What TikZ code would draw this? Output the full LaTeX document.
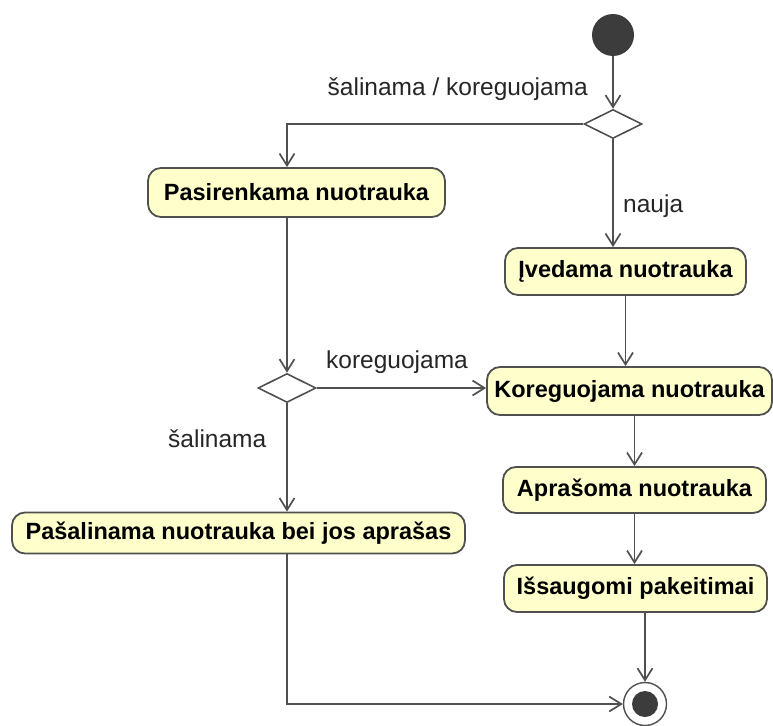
\documentclass[tikz,border=0pt]{standalone}
\usepackage{fontspec}
\setmainfont{Liberation Sans}
\usetikzlibrary{arrows.meta,shapes.geometric}
\definecolor{actfill}{HTML}{FFFFCC}
\definecolor{linegray}{HTML}{505050}
\definecolor{dotgray}{HTML}{3C3C3C}
\tikzset{
  action/.style={draw=linegray, line width=1.8pt, fill=actfill, rounded corners=13pt,
    inner sep=0pt, font=\fontsize{23.5}{26}\selectfont\bfseries, align=center},
  decision/.style={draw=linegray, line width=1.6pt, fill=white, diamond, aspect=2,
    minimum width=58pt, minimum height=29pt, inner sep=0pt},
  flow/.style={draw=linegray, line width=1.7pt, -{Straight Barb[length=12pt,width=15pt]}},
  guard/.style={font=\fontsize{24.5}{26}\selectfont, inner sep=0pt, text=black!85},
  initial/.style={circle, fill=dotgray, minimum size=42pt, inner sep=0pt},
  final/.style={circle, draw=linegray, line width=1.4pt, fill=white, minimum size=43pt, inner sep=0pt},
  finaldot/.style={circle, fill=dotgray, minimum size=26pt, inner sep=0pt}
}
\begin{document}
\begin{tikzpicture}[x=1pt,y=-1pt]
  \useasboundingbox (0,0) rectangle (773,725);

  % columns used by the vertical connectors
  \coordinate (colL) at (287,0);

  % start, decisions and end
  \node[initial] (start) at (613,35) {};
  \node[decision] (d1) at (613,124) {};
  \node[decision] (d2) at (287,388) {};
  \node[final] (finish) at (645,704) {};
  \node[finaldot] (finishdot) at (finish) {};

  % actions
  \node[action, minimum width=297pt, minimum height=49pt] (pas) at (296.5,192.5) {Pasirenkama nuotrauka};
  \node[action, minimum width=241pt, minimum height=47pt] (ived) at (625.5,271.5) {Įvedama nuotrauka};
  \node[action, minimum width=285pt, minimum height=48pt] (kor) at (629.5,391) {Koreguojama nuotrauka};
  \node[action, minimum width=263pt, minimum height=46pt] (apr) at (634.5,490) {Aprašoma nuotrauka};
  \node[action, minimum width=263pt, minimum height=47pt] (iss) at (635.5,588.5) {Išsaugomi pakeitimai};
  \node[action, minimum width=453pt, minimum height=41pt] (pasal) at (238.5,533) {Pašalinama nuotrauka bei jos aprašas};

  % guard labels
  \node[guard, anchor=base east] (gA) at (588,95) {šalinama / koreguojama};
  \node[guard, anchor=base west] (gB) at (623,212) {nauja};
  \node[guard, anchor=base west] (gC) at (326,368) {koreguojama};
  \node[guard, anchor=base west] (gD) at (168,447) {šalinama};

  % control flows
  \draw[flow] (start) -- (d1);
  \draw[flow] (d1.west) -| (pas.north -| colL);
  \draw[flow] (d1.south) -- (d1.south |- ived.north);
  \draw[flow] (pas.south -| colL) -- (d2.north);
  \draw[flow] (d2.east) -- (d2.east -| kor.west);
  \draw[flow] (d2.south) -- (d2.south |- pasal.north);
  \draw[flow] (ived.south) -- (ived.south |- kor.north);
  \draw[flow] (apr.north |- kor.south) -- (apr.north);
  \draw[flow] (apr.south) -- (apr.south |- iss.north);
  \draw[flow] (finish.north |- iss.south) -- (finish.north);
  \draw[flow] (pasal.south -| colL) |- (finish.west);
\end{tikzpicture}
\end{document}
